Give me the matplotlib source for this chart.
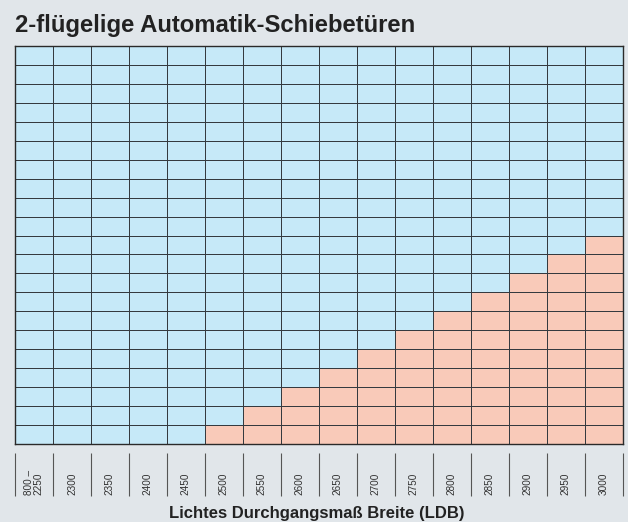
import numpy as np
import matplotlib.pyplot as plt
from matplotlib.colors import ListedColormap

plt.rcParams['font.family'] = ['Liberation Sans', 'DejaVu Sans']

title = '2-flügelige Automatik-Schiebetüren'
xlabel = 'Lichtes Durchgangsmaß Breite (LDB)'

widths = ['800 –\n2250', '2300', '2350', '2400', '2450', '2500', '2550', '2600',
          '2650', '2700', '2750', '2800', '2850', '2900', '2950', '3000']
# number of highlighted (salmon) cells per width column, counted from the bottom
filled = [0, 0, 0, 0, 0, 1, 2, 3, 4, 5, 6, 7, 8, 9, 10, 11]
n_rows = 21

bg = '#e1e6ea'
blue = '#c6e9f8'
salmon = '#f9cab9'
line = '#353a3f'

fig = plt.figure(figsize=(6.28, 5.22), dpi=100, facecolor=bg)
W, H = 628, 522
left, right, top, bottom = 15, 622.5, 46, 444
ax = fig.add_axes([left / W, 1 - bottom / H, (right - left) / W, (bottom - top) / H])

n_cols = len(widths)
grid = np.zeros((n_rows, n_cols))
for j, k in enumerate(filled):
    grid[:k, j] = 1

ax.pcolormesh(np.arange(n_cols + 1), np.arange(n_rows + 1), grid,
              cmap=ListedColormap([blue, salmon]), vmin=0, vmax=1,
              edgecolors=line, linewidth=0.68)
ax.set_xlim(0, n_cols)
ax.set_ylim(0, n_rows)
ax.set_xticks([])
ax.set_yticks([])
for s in ax.spines.values():
    s.set_color('#2a2a2a')
    s.set_linewidth(1.0)

# separators and rotated width labels below the grid
trans = ax.get_xaxis_transform()
h = bottom - top
y_top = -(453 - bottom) / h
y_bot = -(496 - bottom) / h
ax.vlines(np.arange(n_cols + 1), y_bot, y_top, transform=trans,
          color='#555555', linewidth=0.8, clip_on=False)
for j, lab in enumerate(widths):
    ax.text(j + 0.5, y_bot + 0.002, lab, transform=trans, rotation=90,
            ha='center', va='bottom', multialignment='left',
            fontsize=7.2, color='#333333', linespacing=0.9)

fig.text(left / W, 1 - 32 / H, title, fontsize=17.2, fontweight='bold',
         color='#222222', ha='left', va='baseline')
fig.text(317 / W, 1 - 518 / H, xlabel, fontsize=12,
         fontweight='bold', color='#222222', ha='center', va='baseline')

fig.savefig('out.png', dpi=100, facecolor=bg)
